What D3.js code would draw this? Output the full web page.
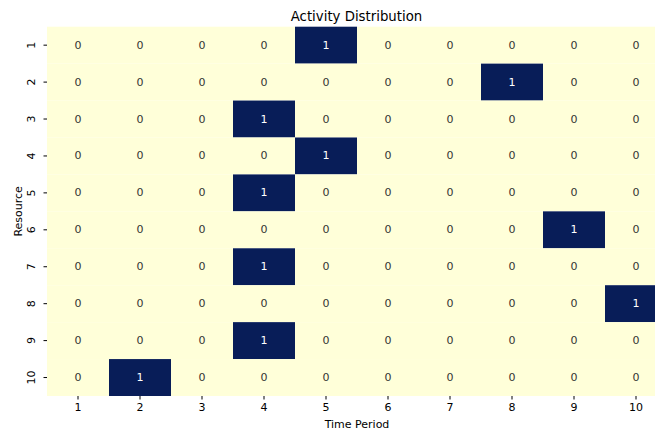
<!DOCTYPE html>
<html>
<head>
<meta charset="utf-8">
<script src="https://cdn.jsdelivr.net/npm/d3@7"></script>
<style>
  html, body { margin: 0; padding: 0; background: #fff; overflow: hidden; }
  svg { display: block; font-family: "DejaVu Sans", sans-serif; }
</style>
</head>
<body>
<svg id="chart" width="655" height="432"></svg>
<script>
// Resources (rows) and time periods (columns)
const resources = [1, 2, 3, 4, 5, 6, 7, 8, 9, 10];
const periods = [1, 2, 3, 4, 5, 6, 7, 8, 9, 10];

// Activity matrix: one row per resource, one value per period
const activity = [
  [0, 0, 0, 0, 1, 0, 0, 0, 0, 0],
  [0, 0, 0, 0, 0, 0, 0, 1, 0, 0],
  [0, 0, 0, 1, 0, 0, 0, 0, 0, 0],
  [0, 0, 0, 0, 1, 0, 0, 0, 0, 0],
  [0, 0, 0, 1, 0, 0, 0, 0, 0, 0],
  [0, 0, 0, 0, 0, 0, 0, 0, 1, 0],
  [0, 0, 0, 1, 0, 0, 0, 0, 0, 0],
  [0, 0, 0, 0, 0, 0, 0, 0, 0, 1],
  [0, 0, 0, 1, 0, 0, 0, 0, 0, 0],
  [0, 1, 0, 0, 0, 0, 0, 0, 0, 0]
];

const svg = d3.select("#chart");
const margin = { left: 47, top: 26.7 };
const plotW = 620, plotH = 369.3;

const x = d3.scaleBand().domain(periods).range([margin.left, margin.left + plotW]);
const y = d3.scaleBand().domain(resources).range([margin.top, margin.top + plotH]);

const cells = [];
activity.forEach((row, i) => row.forEach((v, j) => cells.push({ r: resources[i], p: periods[j], v })));

svg.append("g").selectAll("rect").data(cells).join("rect")
  .attr("x", d => x(d.p))
  .attr("y", d => y(d.r))
  .attr("width", x.bandwidth())
  .attr("height", y.bandwidth())
  .attr("fill", d => d.v === 1 ? "#081d58" : "#ffffd9");

svg.append("g").selectAll("text").data(cells).join("text")
  .attr("x", d => x(d.p) + x.bandwidth() / 2)
  .attr("y", d => y(d.r) + y.bandwidth() / 2)
  .attr("text-anchor", "middle")
  .attr("dominant-baseline", "central")
  .attr("font-size", 11)
  .attr("fill", d => d.v === 1 ? "#ffffff" : "#333333")
  .text(d => d.v);

// Axes
const xAxis = svg.append("g")
  .attr("transform", `translate(0,${margin.top + plotH})`)
  .call(d3.axisBottom(x).tickSize(3.5).tickPadding(3.5));
xAxis.select(".domain").remove();
xAxis.selectAll("text").attr("font-size", 11).attr("fill", "#000").attr("font-family", "DejaVu Sans");

const yAxis = svg.append("g")
  .attr("transform", `translate(${margin.left},0)`)
  .call(d3.axisLeft(y).tickSize(3.5).tickPadding(3.5));
yAxis.select(".domain").remove();
yAxis.selectAll("text")
  .attr("font-size", 11).attr("fill", "#000").attr("font-family", "DejaVu Sans")
  .attr("text-anchor", "middle")
  .attr("dy", null)
  .attr("x", null)
  .attr("transform", "translate(-15.5,0) rotate(-90)")
  .attr("dominant-baseline", "central");

// Titles
svg.append("text")
  .attr("x", 356.5)
  .attr("y", 21)
  .attr("text-anchor", "middle")
  .attr("font-size", 13.3)
  .attr("fill", "#000")
  .text("Activity Distribution");

svg.append("text")
  .attr("x", 357)
  .attr("y", 428)
  .attr("text-anchor", "middle")
  .attr("font-size", 11)
  .attr("fill", "#000")
  .text("Time Period");

svg.append("text")
  .attr("transform", `translate(21.5,${margin.top + plotH / 2}) rotate(-90)`)
  .attr("text-anchor", "middle")
  .attr("font-size", 11)
  .attr("fill", "#000")
  .text("Resource");
</script>
</body>
</html>
